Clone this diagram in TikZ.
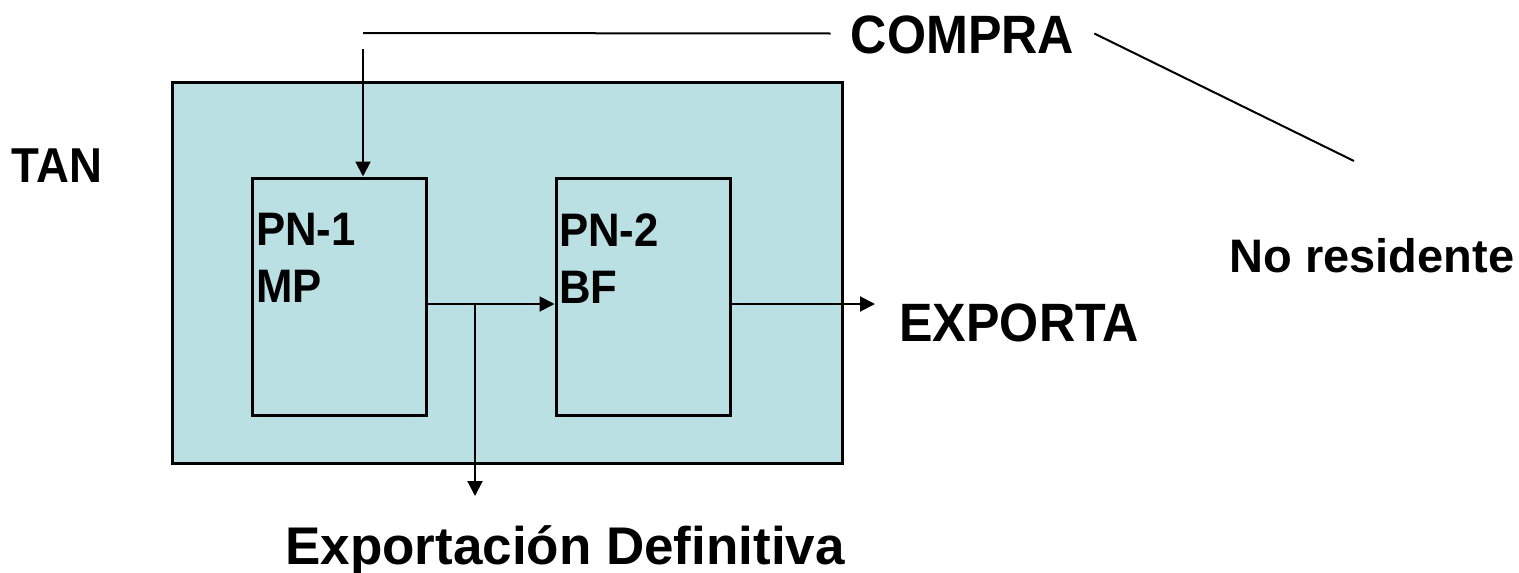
\documentclass[tikz,border=0pt]{standalone}
\usepackage{fontspec}
\setmainfont{Liberation Sans}
\newfontfamily\estrecha[FakeStretch=0.93]{Liberation Sans}
\usetikzlibrary{arrows.meta}
\definecolor{fondo}{RGB}{187,224,227}
\begin{document}
\begin{tikzpicture}[x=1pt, y=-1pt, >={Triangle[length=15pt,width=15pt]},
    caja/.style={draw, line width=3pt, inner sep=0pt},
    flecha/.style={->, line width=2pt},
    texto/.style={inner sep=0pt, anchor=base, font=\bfseries\fontsize{#1}{#1}\selectfont},
    angosto/.style={inner sep=0pt, anchor=base, font=\estrecha\bfseries\fontsize{#1}{#1}\selectfont}]
    \useasboundingbox (0,0) rectangle (1519,573);
    \node[caja, fill=fondo, minimum width=670pt, minimum height=381pt] (tan) at (507,272.5) {};
    \node[caja, minimum width=174pt, minimum height=237pt] (pn1) at (339,296.5) {};
    \node[caja, minimum width=174pt, minimum height=237pt] (pn2) at (643,296.5) {};
    \node[anchor=north west, inner sep=0pt, align=left, font=\estrecha\bfseries\fontsize{47}{57}\selectfont] (pn1txt) at (256,213) {PN-1\\MP};
    \node[anchor=north west, inner sep=0pt, align=left, font=\estrecha\bfseries\fontsize{47}{57}\selectfont] (pn2txt) at (559,213) {PN-2\\BF};
    \node[angosto=49] (tantxt) at (57,182) {TAN};
    \node[angosto=54, inner xsep=20pt] (compra) at (962.5,53) {COMPRA};
    \node[angosto=54] (exporta) at (1019,341) {EXPORTA};
    \node[texto=47] (nores) at (1372,272) {No residente};
    \node[texto=53] (expdef) at (565,564) {Exportación Definitiva};
    \coordinate (esquina) at (363,33);
    \coordinate (bajada) at (363,49);
    \coordinate (diag) at (1354,161);
    \coordinate (corte) at (475,304);
    \coordinate (salida) at (475,496);
    \coordinate (fin) at (875,304);
    \draw[line width=2pt] ([yshift=19.5pt]compra.base west) -- (esquina);
    \draw[line width=2pt] ([yshift=19.5pt]compra.base east) -- (diag);
    \draw[flecha] (bajada) -- (bajada |- pn1.north);
    \draw[flecha] (corte -| pn1.east) -- (corte -| pn2.west);
    \draw[flecha] (corte) -- (salida);
    \draw[flecha] (corte -| pn2.east) -- (fin);
\end{tikzpicture}
\end{document}
